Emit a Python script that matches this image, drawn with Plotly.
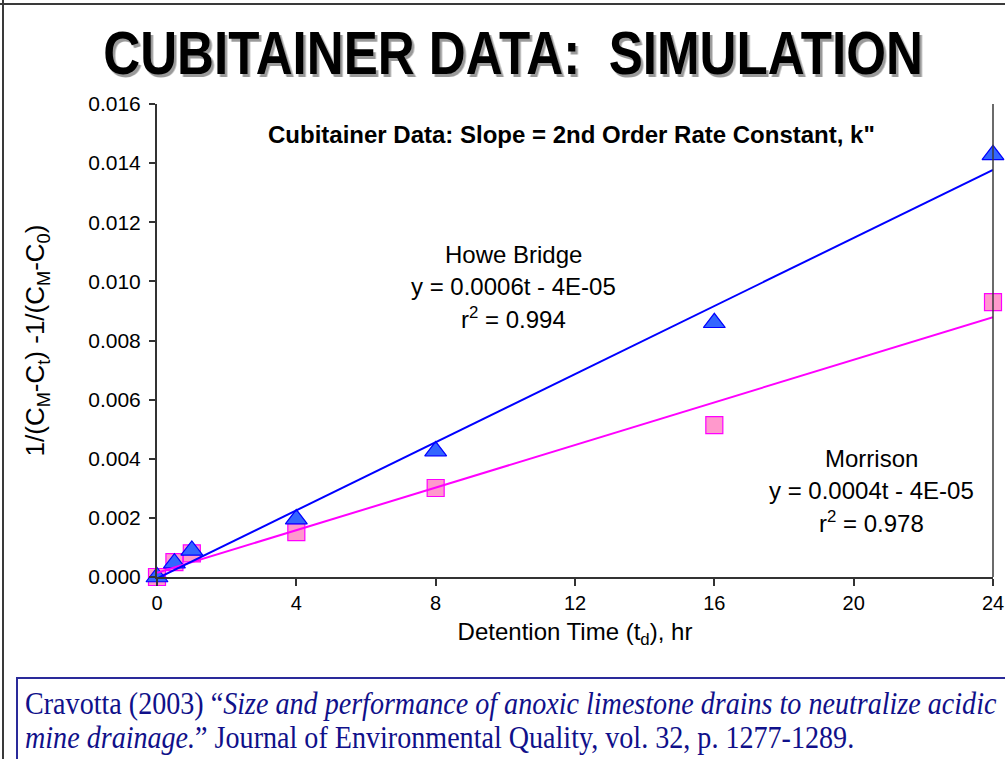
import numpy as np
import plotly.graph_objects as go

# ---------------- data ----------------
time_hr = [0, 0.5, 1, 4, 8, 16, 24]
howe_bridge = [0.0000, 0.00047, 0.0009, 0.00196, 0.00426, 0.0086, 0.01428]
morrison = [0.0000, 0.0005, 0.0008, 0.00152, 0.00301, 0.00514, 0.0093]
x_ticks = [0, 4, 8, 12, 16, 20, 24]
y_ticks = [0.000, 0.002, 0.004, 0.006, 0.008, 0.010, 0.012, 0.014, 0.016]

title_text = "CUBITAINER DATA:  SIMULATION"
subtitle_text = "Cubitainer Data: Slope = 2nd Order Rate Constant, k\""
howe_lines = ["Howe Bridge", "y = 0.0006t - 4E-05", "r<sup>2</sup> = 0.994"]
morrison_lines = ["Morrison", "y = 0.0004t - 4E-05", "r<sup>2</sup> = 0.978"]
citation_line1 = ("Cravotta (2003) \u201c<i>Size and performance of anoxic limestone "
                  "drains to neutralize acidic</i>")
citation_line2 = ("<i>mine drainage.</i>\u201d Journal of Environmental Quality, "
                  "vol. 32, p. 1277-1289.")

# ---------------- layout geometry (pixels) ----------------
FW, FH = 1005, 759
L, R, T, B = 157, 993, 104, 577
PW, PH = R - L, B - T


def px(x):
    return (x - L) / PW


def py(y):
    return (B - y) / PH


# trend lines from least squares fit
t_line = np.array([0, 24])
hb_fit = np.polyfit(time_hr, howe_bridge, 1)
mo_fit = np.polyfit(time_hr, morrison, 1)

SANS = "Liberation Sans, Arial, sans-serif"
SERIF = "Liberation Serif, Times New Roman, serif"

fig = go.Figure()
fig.add_trace(go.Scatter(
    x=time_hr, y=morrison, mode="markers", name="Morrison",
    marker=dict(symbol="square", size=17, color="#FF99CC",
                line=dict(color="#FF00FF", width=1.2)),
    cliponaxis=False))
fig.add_trace(go.Scatter(
    x=time_hr, y=howe_bridge, mode="markers", name="Howe Bridge",
    marker=dict(symbol="triangle-up", size=19, color="#3366FF",
                line=dict(color="#0000FF", width=1.2)),
    cliponaxis=False))
fig.add_trace(go.Scatter(
    x=t_line, y=np.polyval(mo_fit, t_line), mode="lines",
    line=dict(color="#FF00FF", width=2), cliponaxis=False))
fig.add_trace(go.Scatter(
    x=t_line, y=np.polyval(hb_fit, t_line), mode="lines",
    line=dict(color="#0000FF", width=2), cliponaxis=False))

annotations = [dict(
    text="<b>" + title_text + "</b>", x=px(513), y=py(53),
    xref="paper", yref="paper",
    xanchor="center", yanchor="middle", showarrow=False,
    font=dict(family=SANS, size=61, color="#000000"))]
annotations.append(dict(
    text="<b>" + subtitle_text + "</b>", x=px(571), y=py(134), xref="paper", yref="paper",
    xanchor="center", yanchor="middle", showarrow=False,
    font=dict(family=SANS, size=24, color="#000000")))
for i, line in enumerate(howe_lines):
    annotations.append(dict(
        text=line, x=px(513), y=py(254 + 32 * i), xref="paper", yref="paper",
        xanchor="center", yanchor="middle", showarrow=False,
        font=dict(family=SANS, size=24, color="#000000")))
for i, line in enumerate(morrison_lines):
    annotations.append(dict(
        text=line, x=px(871), y=py(458 + 32 * i), xref="paper", yref="paper",
        xanchor="center", yanchor="middle", showarrow=False,
        font=dict(family=SANS, size=24, color="#000000")))
for i, line in enumerate([citation_line1, citation_line2]):
    annotations.append(dict(
        text=line, x=px(23), y=py(703 + 34 * i), xref="paper", yref="paper",
        xanchor="left", yanchor="middle", showarrow=False,
        font=dict(family=SERIF, size=32, color="#10108a")))

shapes = [
    # slide frame (left and top)
    dict(type="line", xref="paper", yref="paper", x0=px(3), x1=px(3), y0=py(0), y1=py(FH),
         line=dict(color="#3a3a3a", width=2)),
    dict(type="line", xref="paper", yref="paper", x0=px(0), x1=px(FW), y0=py(4), y1=py(4),
         line=dict(color="#3a3a3a", width=2)),
    # right plot frame
    dict(type="line", xref="paper", yref="paper", x0=1, x1=1, y0=0, y1=1,
         line=dict(color="#3a3a3a", width=1.5)),
    # citation box
    dict(type="rect", xref="paper", yref="paper", x0=px(17), x1=px(FW + 10),
         y0=py(678), y1=py(FH + 10), line=dict(color="#2a2a9a", width=2),
         fillcolor="rgba(0,0,0,0)"),
]

fig.update_layout(
    width=FW, height=FH,
    margin=dict(l=L, r=FW - R, t=T, b=FH - B, autoexpand=False),
    paper_bgcolor="white", plot_bgcolor="white",
    showlegend=False,
    font=dict(family=SANS, color="#000000"),
    annotations=annotations, shapes=shapes,
    xaxis=dict(range=[0, 24], tickvals=x_ticks, ticktext=[str(v) for v in x_ticks],
               automargin=False,
               showgrid=False, zeroline=False, showline=True, linecolor="#333333",
               linewidth=2, ticks="outside", ticklen=7, tickcolor="#333333", tickwidth=1.5,
               tickfont=dict(size=20), title=dict(text="Detention Time (t<sub>d</sub>), hr",
                                                  font=dict(size=24), standoff=10)),
    yaxis=dict(range=[0, 0.016], tickvals=y_ticks, tickformat=".3f",
               automargin=False,
               showgrid=False, zeroline=False, showline=True, linecolor="#333333",
               linewidth=2, ticks="outside", ticklen=6, tickcolor="#333333", tickwidth=1.5,
               tickfont=dict(size=21), ticklabelstandoff=4,
               title=dict(text="1/(C<sub>M</sub>-C<sub>t</sub>) -1/(C<sub>M</sub>-C<sub>0</sub>)",
                          font=dict(size=26), standoff=36)),
)

post = """
document.body.style.margin = '0';
var gd = document.getElementById('{plot_id}');
function squeezeText() {
  gd.querySelectorAll('text.annotation-text').forEach(function (t) {
    var s = t.textContent || '';
    var f = null, o = 'center';
    if (s.indexOf('CUBITAINER') === 0) {
      f = 0.838; o = 'center';
      t.style.filter = 'drop-shadow(3px 3px 0px #9a9a9a)';
    }
    else if (s.indexOf('Cravotta') === 0 || s.indexOf('mine drainage') === 0) { f = 0.878; o = 'left center'; }
    if (f) {
      t.style.transformBox = 'fill-box';
      t.style.transformOrigin = o;
      t.style.transform = 'scaleX(' + f + ')';
    }
  });
}
squeezeText();
if (gd.on) { gd.on('plotly_afterplot', squeezeText); }
"""

fig.write_html("out.html", post_script=post, config={"displayModeBar": False})
